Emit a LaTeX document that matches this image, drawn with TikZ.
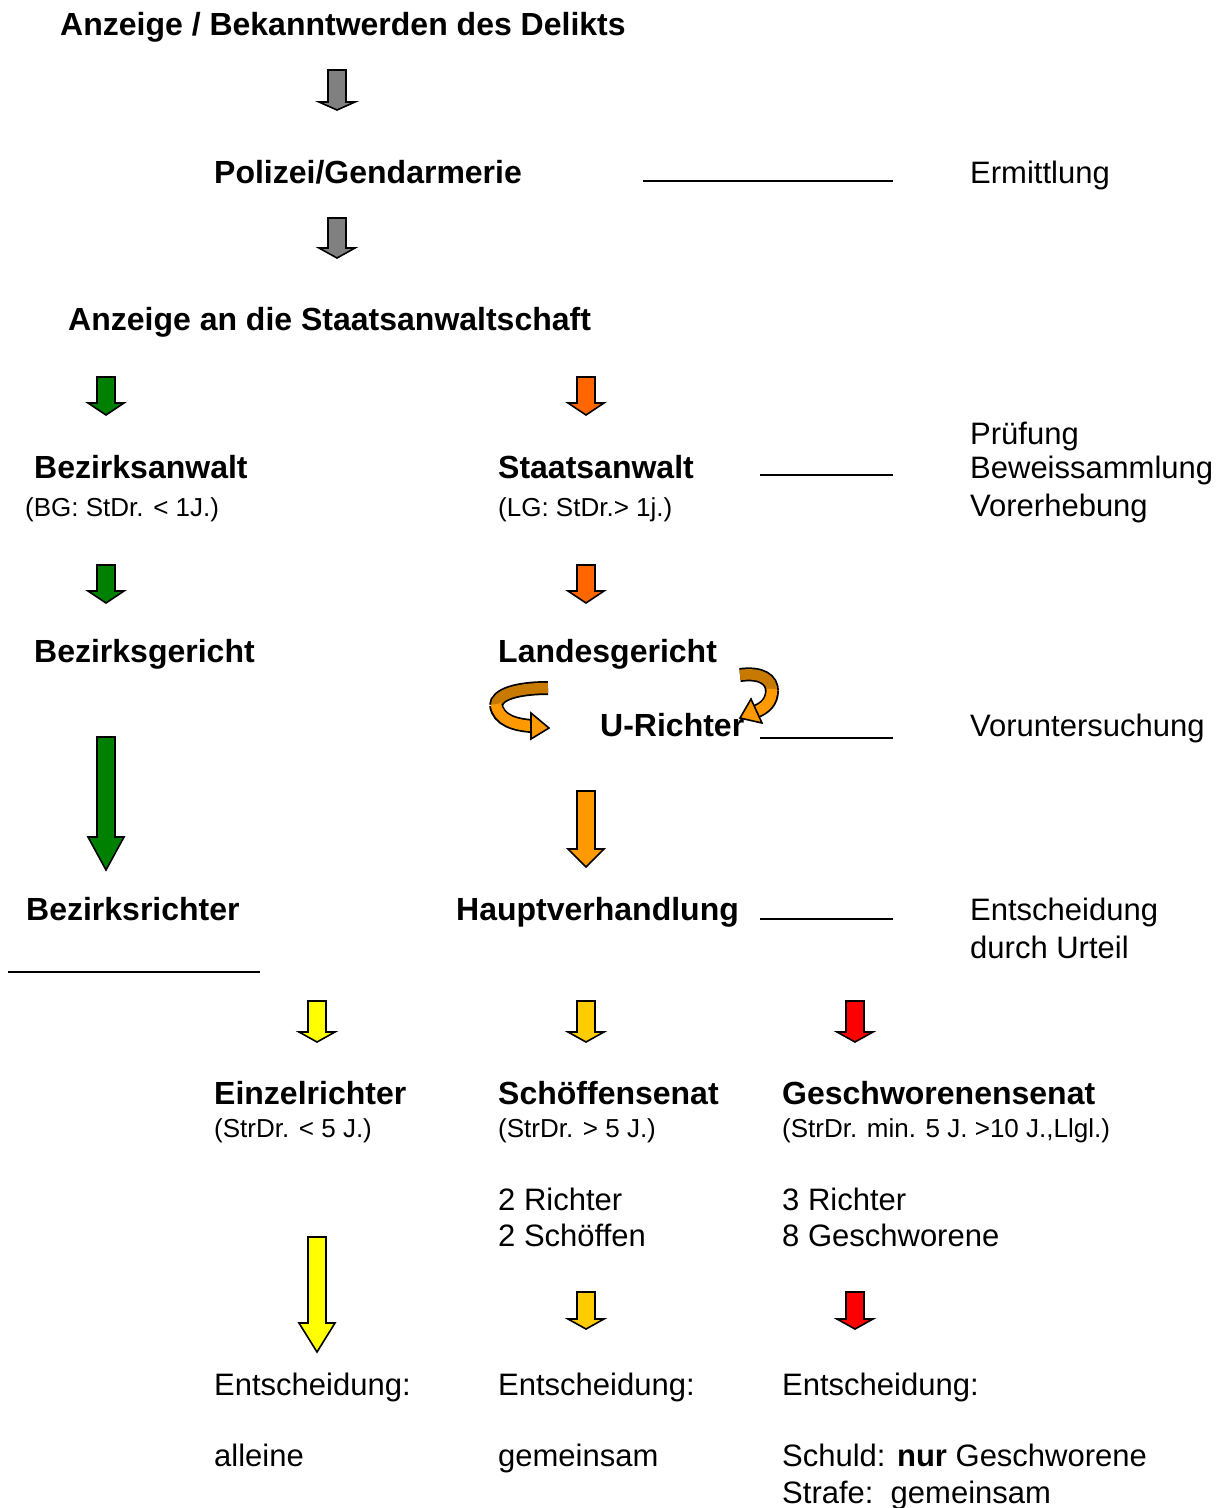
\documentclass[tikz,border=0pt]{standalone}
\usepackage{fontspec}
\setmainfont{Liberation Sans}
\usetikzlibrary{positioning}
\usetikzlibrary{calc}

% colours of the block arrows
\definecolor{grayarrow}{HTML}{808080}
\definecolor{greenarrow}{HTML}{008000}
\definecolor{redorange}{HTML}{FF6600}
\definecolor{lightorange}{HTML}{FF9900}
\definecolor{darkorange}{HTML}{C87A00}
\definecolor{yellowarrow}{HTML}{FFFF00}
\definecolor{goldarrow}{HTML}{FFCC00}
\definecolor{redarrow}{HTML}{FF0000}

% block arrow pointing down: fill, x, top, start of head, tip
\newcommand{\blockarrow}[5]{%
  \filldraw[fill=#1, draw=black, line width=1.6pt, line join=miter]
    ({#2-9},#3) -- ({#2+9},#3) -- ({#2+9},#4) -- ({#2+18},#4) -- (#2,#5)
    -- ({#2-18},#4) -- ({#2-9},#4) -- cycle;}

\begin{document}
\begin{tikzpicture}[x=1pt, y=-1pt,
    big/.style={anchor=base west, inner sep=0pt, font=\bfseries\fontsize{32}{36}\selectfont},
    txt/.style={anchor=base west, inner sep=0pt, font=\fontsize{31}{35}\selectfont},
    sml/.style={anchor=base west, inner sep=0pt, font=\fontsize{26}{30}\selectfont},
    rule/.style={line width=1.6pt},
    ribbonline/.style={line width=14pt, black},
  ]
  \useasboundingbox (0,0) rectangle (1225,1508);
  % column positions
  \def\colA{498}
  \def\colB{782}
  \def\colR{970}

  % first part: report and police
  \node[big] (anzeige) at (60,35) {Anzeige / Bekanntwerden des Delikts};
  \blockarrow{grayarrow}{337}{70}{102}{110}
  \node[big] (polizei) at (214,183) {Polizei/Gendarmerie};
  \node[txt] (ermittlung) at (\colR,183) {Ermittlung};
  \draw[rule] (643,181) -- (893,181);
  \blockarrow{grayarrow}{337}{218}{248}{258}
  \node[big] (sta) at (68,330) {Anzeige an die Staatsanwaltschaft};

  % prosecutors
  \blockarrow{greenarrow}{106}{377}{403}{415}
  \blockarrow{redorange}{586}{377}{403}{415}
  \node[big] (bezanwalt) at (34,478) {Bezirksanwalt};
  \node[sml] (bezanwaltinfo) at (25,516) {(BG: StDr. < 1J.)};
  \node[big] (staanwalt) at (\colA,478) {Staatsanwalt};
  \node[sml] (staanwaltinfo) at (\colA,516) {(LG: StDr.> 1j.)};
  \draw[rule] (760,475) -- (893,475);
  \node[txt] (pruefung) at (\colR,444) {Prüfung};
  \node[txt] (beweis) at (\colR,478) {Beweissammlung};
  \node[txt] (vorerhebung) at (\colR,516) {Vorerhebung};

  % courts
  \blockarrow{greenarrow}{106}{565}{591}{603}
  \blockarrow{redorange}{586}{565}{591}{603}
  \node[big] (bezgericht) at (34,662) {Bezirksgericht};
  \node[big] (landgericht) at (\colA,662) {Landesgericht};

  % curled arrows round the U-Richter
  \draw[ribbonline] (548,688) .. controls (518,688) and (496,694) .. (496,706);
  \draw[line width=10.5pt, darkorange] (548,688) .. controls (518,688) and (496,694) .. (496,706);
  \draw[ribbonline] (496,705) .. controls (498,720) and (515,725) .. (532,726);
  \draw[line width=10.5pt, lightorange] (496,704) .. controls (498,720) and (515,725) .. (532,726);
  \filldraw[fill=lightorange, draw=black, line width=1.6pt] (531,713) -- (549,728) -- (531,739) -- cycle;
  \draw[ribbonline] (740,675) .. controls (762,672) and (772,680) .. (772,691);
  \draw[line width=10.5pt, darkorange] (740,675) .. controls (762,672) and (772,680) .. (772,691);
  \draw[ribbonline] (772,690) .. controls (772,702) and (765,708) .. (755,712);
  \draw[line width=10.5pt, lightorange] (772,689) .. controls (772,702) and (765,708) .. (755,712);
  \filldraw[fill=lightorange, draw=black, line width=1.6pt] (751,699) -- (740,718) -- (762,723) -- cycle;
  \node[big] (urichter) at (600,736) {U-Richter};
  \draw[rule] (760,738) -- (893,738);
  \node[txt] (vorunters) at (\colR,736) {Voruntersuchung};

  % main hearing
  \blockarrow{greenarrow}{106}{737}{837}{870}
  \blockarrow{lightorange}{586}{791}{849}{867}
  \node[big] (bezrichter) at (26,920) {Bezirksrichter};
  \node[big] (hauptverh) at (456,920) {Hauptverhandlung};
  \draw[rule] (760,919) -- (893,919);
  \node[txt] (entsch) at (\colR,920) {Entscheidung};
  \node[txt] (urteil) at (\colR,958) {durch Urteil};
  \draw[rule] (8,972) -- (260,972);

  % the three kinds of court
  \blockarrow{yellowarrow}{317}{1001}{1032}{1042}
  \blockarrow{goldarrow}{586}{1001}{1032}{1042}
  \blockarrow{redarrow}{855}{1001}{1032}{1042}
  \node[big] (einzel) at (214,1104) {Einzelrichter};
  \node[sml] (einzelinfo) at (214,1137) {(StrDr. < 5 J.)};
  \node[big] (schoeffen) at (\colA,1104) {Schöffensenat};
  \node[sml] (schoeffeninfo) at (\colA,1137) {(StrDr. > 5 J.)};
  \node[big] (geschw) at (\colB,1104) {Geschworenensenat};
  \node[sml] (geschwinfo) at (\colB,1137) {(StrDr. min. 5 J. >10 J.,Llgl.)};
  \node[txt] (richterA) at (\colA,1210) {2 Richter};
  \node[txt] (schoeffenA) at (\colA,1246) {2 Schöffen};
  \node[txt] (richterB) at (\colB,1210) {3 Richter};
  \node[txt] (geschwB) at (\colB,1246) {8 Geschworene};

  % decisions
  \blockarrow{yellowarrow}{317}{1237}{1323}{1352}
  \blockarrow{goldarrow}{586}{1292}{1319}{1329}
  \blockarrow{redarrow}{855}{1292}{1319}{1329}
  \foreach \x/\n in {214/1, \colA/2, \colB/3} {
    \node[txt] (entscheidung\n) at (\x,1395) {Entscheidung:};
  }
  \node[txt] (alleine) at (214,1466) {alleine};
  \node[txt] (gemeinsam) at (\colA,1466) {gemeinsam};
  \node[txt] (schuld) at (\colB,1466) {Schuld: \textbf{nur} Geschworene};
  \node[txt] (strafe) at (\colB,1503) {Strafe:\ \ gemeinsam};
\end{tikzpicture}
\end{document}
